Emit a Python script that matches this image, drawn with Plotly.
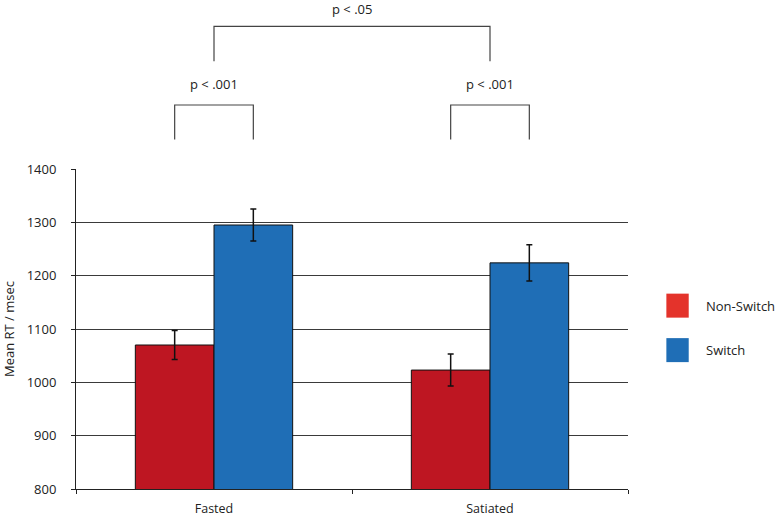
import plotly.graph_objects as go

categories = ["Fasted", "Satiated"]
non_switch = [1070, 1023]
non_switch_err = [27, 30]
switch = [1295, 1224]
switch_err = [30, 34]
series_names = ["Non-Switch", "Switch"]
y_ticks = [800, 900, 1000, 1100, 1200, 1300, 1400]

BAR_RED = "#BE1622"
BAR_BLUE = "#1F6EB6"
LEG_RED = "#E4332B"
FONT = "Open Sans"
BARGAP = 0.43

fig = go.Figure()
fig.add_trace(go.Bar(
    x=categories, y=non_switch, name=series_names[0],
    marker=dict(color=BAR_RED, line=dict(color="#111", width=1)),
    error_y=dict(type="data", array=non_switch_err, color="#111", thickness=1.5, width=3),
    showlegend=False,
))
fig.add_trace(go.Bar(
    x=categories, y=switch, name=series_names[1],
    marker=dict(color=BAR_BLUE, line=dict(color="#111", width=1)),
    error_y=dict(type="data", array=switch_err, color="#111", thickness=1.5, width=3),
    showlegend=False,
))

half = (1 - BARGAP) / 4  # offset of each bar centre from the category centre
shapes = []
annotations = []
line_style = dict(color="#444", width=1.2)
# small brackets per category
for i in range(len(categories)):
    x0, x1 = i - half, i + half
    shapes.append(dict(type="path", xref="x", yref="paper",
                       path=f"M {x0},1.092 L {x0},1.2 L {x1},1.2 L {x1},1.092",
                       line=line_style))
    annotations.append(dict(x=i, y=1.266, xref="x", yref="paper", text="p < .001",
                            showarrow=False, font=dict(size=13, color="#222", family=FONT),
                            yanchor="middle"))
# big bracket
shapes.append(dict(type="path", xref="x", yref="paper",
                   path="M 0,1.337 L 0,1.446 L 1,1.446 L 1,1.337", line=line_style))
annotations.append(dict(x=0.5, y=1.5, xref="x", yref="paper", text="p < .05",
                        showarrow=False, font=dict(size=13, color="#222", family=FONT),
                        yanchor="middle"))

# manual legend (swatch colours differ from bars in the reference)
leg_colors = [LEG_RED, BAR_BLUE]
leg_y = [0.573, 0.434]
for name, col, yc in zip(series_names, leg_colors, leg_y):
    shapes.append(dict(type="rect", xref="paper", yref="paper",
                       x0=1.0695, x1=1.110, y0=yc - 0.0375, y1=yc + 0.0375,
                       fillcolor=col, line=dict(width=0)))
    annotations.append(dict(x=1.1385, y=yc, xref="paper", yref="paper", text=name,
                            showarrow=False, xanchor="left", yanchor="middle",
                            font=dict(size=13, color="#222", family=FONT)))

fig.update_layout(
    width=776, height=519,
    margin=dict(l=76, r=148, t=169, b=30),
    paper_bgcolor="white", plot_bgcolor="white",
    barmode="group", bargap=BARGAP, bargroupgap=0,
    font=dict(family=FONT, size=13, color="#222"),
    shapes=shapes, annotations=annotations,
    showlegend=False,
)
fig.update_yaxes(
    range=[800, 1400], tickvals=y_ticks, showgrid=True, gridcolor="#3a3a3a", gridwidth=1,
    showline=True, linecolor="#222", linewidth=1, ticks="outside", ticklen=4, tickcolor="#222",
    ticklabelstandoff=12, zeroline=False, automargin=False,
    title=dict(text="Mean RT / msec", standoff=12, font=dict(size=13, family=FONT)),
)
fig.update_xaxes(
    showline=True, linecolor="#222", linewidth=1, ticks="outside", ticklen=4, tickcolor="#222",
    tickson="boundaries", ticklabelstandoff=8, showgrid=False, automargin=False,
    tickfont=dict(size=12.5),
)

fig.write_html("out.html", config={"displayModeBar": False},
               post_script="document.body.style.margin='0';")
